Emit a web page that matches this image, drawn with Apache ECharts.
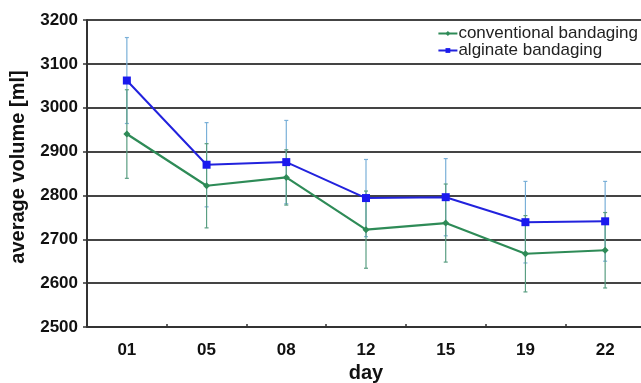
<!DOCTYPE html>
<html>
<head>
<meta charset="utf-8">
<script src="https://cdn.jsdelivr.net/npm/echarts@6/dist/echarts.min.js"></script>
<style>html,body{margin:0;padding:0;background:#fff}#c{width:641px;height:383px}</style>
</head>
<body>
<div id="c"></div>
<script>
var days = ['01','05','08','12','15','19','22'];
var conventional = [2940, 2822, 2841, 2722, 2737, 2667, 2675];
var conventionalSD = [101, 96, 63, 88, 89, 87, 86];
var alginate = [3062, 2870, 2876, 2794, 2796, 2739, 2741];
var alginateSD = [98, 96, 95, 88, 88, 93, 91];
var yTicks = [2500, 2600, 2700, 2800, 2900, 3000, 3100, 3200];

function errData(mean, sd) {
  return mean.map(function (m, i) { return [i, m - sd[i], m + sd[i]]; });
}
function errRender(color) {
  return function (params, api) {
    var x = api.value(0);
    var lo = api.coord([x, api.value(1)]);
    var hi = api.coord([x, api.value(2)]);
    var w = 2;
    var style = { stroke: color, lineWidth: 1.2, fill: null };
    return {
      type: 'group',
      children: [
        { type: 'line', shape: { x1: hi[0], y1: hi[1], x2: lo[0], y2: lo[1] }, style: style },
        { type: 'line', shape: { x1: hi[0] - w, y1: hi[1], x2: hi[0] + w, y2: hi[1] }, style: style },
        { type: 'line', shape: { x1: lo[0] - w, y1: lo[1], x2: lo[0] + w, y2: lo[1] }, style: style }
      ]
    };
  };
}

var chart = echarts.init(document.getElementById('c'), null, { renderer: 'canvas' });
var font = 'Liberation Sans, Arial, sans-serif';
chart.setOption({
  animation: false,
  backgroundColor: '#fff',
  grid: { left: 87, right: -4, top: 20, bottom: 56, containLabel: false, outerBoundsMode: 'none' },
  legend: {
    orient: 'vertical',
    right: 3,
    top: 25,
    itemWidth: 19,
    itemHeight: 6,
    itemGap: 0,
    padding: 0,
    textStyle: { fontFamily: font, fontSize: 17, color: '#222', padding: [0, 0, 0, -4], lineHeight: 17 },
    data: ['conventional bandaging', 'alginate bandaging']
  },
  xAxis: {
    type: 'category',
    data: days,
    name: 'day',
    nameLocation: 'middle',
    nameGap: 35,
    nameTextStyle: { fontFamily: font, fontSize: 20, fontWeight: 'bold', color: '#111' },
    axisLine: { lineStyle: { color: '#333', width: 2 } },
    axisTick: { show: true, inside: true, length: 3, lineStyle: { color: '#333', width: 1.5 } },
    axisLabel: { fontFamily: font, fontSize: 17, fontWeight: 'bold', color: '#111', margin: 15 },
    splitLine: { show: false }
  },
  yAxis: {
    type: 'value',
    min: yTicks[0],
    max: yTicks[yTicks.length - 1],
    interval: 100,
    name: 'average volume [ml]',
    nameLocation: 'middle',
    nameGap: 59,
    nameTextStyle: { fontFamily: font, fontSize: 20, fontWeight: 'bold', color: '#111', padding: [0, 0, 0, 13] },
    axisLine: { show: true, lineStyle: { color: '#333', width: 2 } },
    axisTick: { show: true, length: 4, lineStyle: { color: '#333', width: 1.5 } },
    axisLabel: { fontFamily: font, fontSize: 17, fontWeight: 'bold', color: '#111', margin: 9,
      formatter: function (v) { return String(v); } },
    splitLine: { show: true, lineStyle: { color: '#444', width: 2 } }
  },
  series: [
    {
      type: 'custom',
      name: 'alginateErr',
      renderItem: errRender('#7ab0d8'),
      data: errData(alginate, alginateSD),
      encode: { x: 0, y: [1, 2] },
      z: 3,
      silent: true
    },
    {
      type: 'custom',
      name: 'conventionalErr',
      renderItem: errRender('#5a9e82'),
      data: errData(conventional, conventionalSD),
      encode: { x: 0, y: [1, 2] },
      z: 3,
      silent: true
    },
    {
      type: 'line',
      name: 'conventional bandaging',
      data: conventional,
      symbol: 'diamond',
      symbolSize: 7,
      lineStyle: { color: '#2e8b57', width: 2.2 },
      itemStyle: { color: '#2e8b57' },
      z: 4
    },
    {
      type: 'line',
      name: 'alginate bandaging',
      data: alginate,
      symbol: 'rect',
      symbolSize: 8,
      lineStyle: { color: '#2222dd', width: 2 },
      itemStyle: { color: '#1a1aee' },
      z: 5
    }
  ]
});
</script>
</body>
</html>
